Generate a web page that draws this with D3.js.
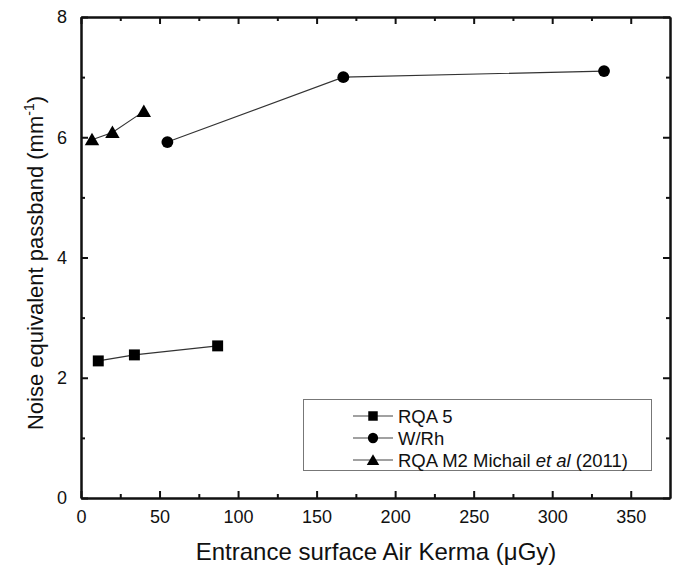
<!DOCTYPE html>
<html>
<head>
<meta charset="utf-8">
<script src="https://cdn.jsdelivr.net/npm/d3@7"></script>
<style>
  body { margin: 0; background: #fff; }
  svg { font-family: "Liberation Sans", Arial, sans-serif; }
</style>
</head>
<body>
<svg id="chart"></svg>
<script>
// Data
const rqa5X = [11, 34, 87]
const rqa5Y = [2.28, 2.38, 2.53]
const wrhX = [55, 167, 333]
const wrhY = [5.92, 7.0, 7.1]
const rqaM2X = [7, 20, 40]
const rqaM2Y = [5.96, 6.08, 6.43]
const xTicks = [0, 50, 100, 150, 200, 250, 300, 350]
const yTicks = [0, 2, 4, 6, 8]
const legendLabels = ["RQA 5", "W/Rh", "RQA M2 Michail"]

const width = 677, height = 568
const margin = {top: 17, right: 7, bottom: 70, left: 81}
const w = width - margin.left - margin.right
const h = height - margin.top - margin.bottom

const svg = d3.select("#chart").attr("width", width).attr("height", height)
const g = svg.append("g").attr("transform", "translate(" + margin.left + "," + margin.top + ")")

const x = d3.scaleLinear().domain([0, 375]).range([0, w])
const y = d3.scaleLinear().domain([0, 8]).range([h, 0])

const minorX = d3.range(25, 375, 50)
const minorY = d3.range(1, 8, 2)

// Axes: ticks point inward on all four sides
const axBottom = g.append("g").attr("transform", "translate(0," + h + ")")
  .call(d3.axisBottom(x).tickValues(xTicks).tickSizeInner(-7).tickSizeOuter(0).tickPadding(12))
g.append("g").call(d3.axisTop(x).tickValues(xTicks).tickSizeInner(-7).tickSizeOuter(0).tickFormat(""))
g.append("g").call(d3.axisLeft(y).tickValues(yTicks).tickSizeInner(-7).tickSizeOuter(0).tickPadding(14))
g.append("g").attr("transform", "translate(" + w + ",0)")
  .call(d3.axisRight(y).tickValues(yTicks).tickSizeInner(-7).tickSizeOuter(0).tickFormat(""))

g.append("g").attr("transform", "translate(0," + h + ")")
  .call(d3.axisBottom(x).tickValues(minorX).tickSizeInner(-4).tickSizeOuter(0).tickFormat(""))
g.append("g").call(d3.axisTop(x).tickValues(minorX).tickSizeInner(-4).tickSizeOuter(0).tickFormat(""))
g.append("g").call(d3.axisLeft(y).tickValues(minorY).tickSizeInner(-4).tickSizeOuter(0).tickFormat(""))
g.append("g").attr("transform", "translate(" + w + ",0)")
  .call(d3.axisRight(y).tickValues(minorY).tickSizeInner(-4).tickSizeOuter(0).tickFormat(""))

g.selectAll(".domain").attr("stroke", "#111").attr("stroke-width", 2)
g.selectAll(".tick line").attr("stroke", "#111").attr("stroke-width", 2)
g.selectAll(".tick text").attr("font-size", "18px").attr("fill", "#111").attr("font-family", "Liberation Sans, Arial, sans-serif")
axBottom.selectAll(".tick text").attr("dy", "0.71em")

// Axis titles
svg.append("text")
  .attr("x", 376).attr("y", 560)
  .attr("text-anchor", "middle").attr("font-size", "24px").attr("fill", "#111")
  .text("Entrance surface Air Kerma (μGy)")

const yt = svg.append("text")
  .attr("transform", "translate(43,263) rotate(-90)")
  .attr("text-anchor", "middle").attr("font-size", "22px").attr("fill", "#111")
yt.append("tspan").text("Noise equivalent passband (mm")
yt.append("tspan").attr("font-size", "14px").attr("dy", "-9").text("-1")
yt.append("tspan").attr("dy", "9").text(")")

// Series
const line = d3.line().x(d => x(d[0])).y(d => y(d[1]))
const series = [
  {pts: d3.zip(rqa5X, rqa5Y), shape: d3.symbolSquare, size: 120},
  {pts: d3.zip(wrhX, wrhY), shape: d3.symbolCircle, size: 110},
  {pts: d3.zip(rqaM2X, rqaM2Y), shape: d3.symbolTriangle, size: 90}
]

series.forEach(s => {
  g.append("path").datum(s.pts).attr("d", line)
    .attr("fill", "none").attr("stroke", "#333").attr("stroke-width", 1.1)
  g.selectAll(null).data(s.pts).enter().append("path")
    .attr("d", d3.symbol().type(s.shape).size(s.size))
    .attr("transform", d => "translate(" + x(d[0]) + "," + (y(d[1]) + (s.shape === d3.symbolTriangle ? 1.5 : 0)) + ")")
    .attr("fill", "#000")
})

// Legend
const lg = svg.append("g")
lg.append("rect").attr("x", 303.5).attr("y", 399.5).attr("width", 348).attr("height", 71)
  .attr("fill", "#fff").attr("stroke", "#777").attr("stroke-width", 1)
series.forEach((s, i) => {
  const ly = 416 + i * 22
  lg.append("line").attr("x1", 353).attr("x2", 393).attr("y1", ly).attr("y2", ly)
    .attr("stroke", "#444").attr("stroke-width", 1.1)
  lg.append("path").attr("d", d3.symbol().type(s.shape).size(s.size * 0.75))
    .attr("transform", "translate(373," + (ly + (s.shape === d3.symbolTriangle ? 1.5 : 0)) + ")")
    .attr("fill", "#000")
  const t = lg.append("text").attr("x", 398).attr("y", ly + 6.5).attr("font-size", "18.5px").attr("fill", "#111")
  t.append("tspan").text(legendLabels[i])
  if (i === 2) {
    t.append("tspan").attr("font-style", "italic").text(" et al")
    t.append("tspan").text(" (2011)")
  }
})
</script>
</body>
</html>
